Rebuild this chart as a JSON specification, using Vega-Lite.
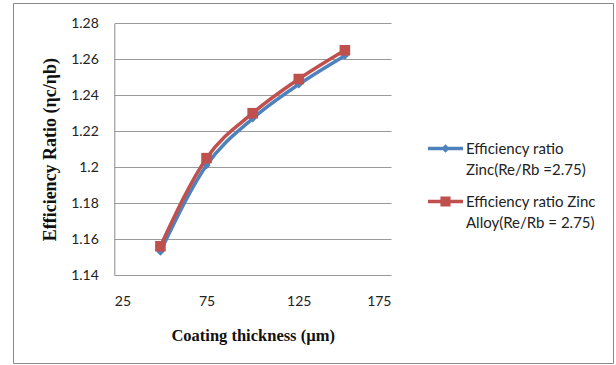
{
  "$schema": "https://vega.github.io/schema/vega-lite/v6.json",
  "autosize": {"type": "none"},
  "padding": {"left": 13, "top": 3, "right": 3, "bottom": 2},
  "width": 600,
  "height": 360,
  "background": "white",
  "view": {"stroke": "#8a8a8a", "strokeWidth": 1},
  "config": {
    "font": "Lato",
    "axis": {
      "labelFont": "Lato",
      "labelFontSize": 14,
      "labelColor": "#222222",
      "titleFont": "Liberation Serif",
      "titleFontWeight": "bold",
      "titleColor": "#111111",
      "ticks": false
    }
  },
  "data": {
    "values": [
      {"thickness": 50, "ratio": 1.153, "series": "Zinc"},
      {"thickness": 75, "ratio": 1.201, "series": "Zinc"},
      {"thickness": 100, "ratio": 1.227, "series": "Zinc"},
      {"thickness": 125, "ratio": 1.246, "series": "Zinc"},
      {"thickness": 150, "ratio": 1.262, "series": "Zinc"},
      {"thickness": 50, "ratio": 1.156, "series": "Zinc Alloy"},
      {"thickness": 75, "ratio": 1.205, "series": "Zinc Alloy"},
      {"thickness": 100, "ratio": 1.230, "series": "Zinc Alloy"},
      {"thickness": 125, "ratio": 1.249, "series": "Zinc Alloy"},
      {"thickness": 150, "ratio": 1.265, "series": "Zinc Alloy"}
    ]
  },
  "encoding": {
    "x": {
      "field": "thickness",
      "type": "quantitative",
      "scale": {"domain": [25, 175], "range": [101.3, 378], "nice": false, "zero": false},
      "axis": {
        "title": "Coating thickness (µm)",
        "titleFontSize": 16.5,
        "titlePadding": 19,
        "values": [25, 75, 125, 175],
        "grid": false,
        "domain": false,
        "offset": -88,
        "labelPadding": 19
      }
    },
    "y": {
      "field": "ratio",
      "type": "quantitative",
      "scale": {"domain": [1.14, 1.28], "range": [272, 20.3], "nice": false, "zero": false},
      "axis": {
        "title": "Efficiency Ratio (ηc/ηb)",
        "titleFontSize": 18,
        "titlePadding": 11,
        "values": [1.14, 1.16, 1.18, 1.2, 1.22, 1.24, 1.26, 1.28],
        "format": ".2~f",
        "offset": -101.3,
        "labelPadding": 16,
        "domain": true,
        "domainColor": "#8a8a8a",
        "grid": true,
        "gridColor": "#9a9a9a",
        "gridOpacity": 1
      }
    }
  },
  "layer": [
    {
      "transform": [{"filter": "datum.series === 'Zinc'"}],
      "mark": {"type": "line", "interpolate": "monotone", "strokeWidth": 3.5},
      "encoding": {
        "color": {
          "field": "series",
          "type": "nominal",
          "scale": {"domain": ["Zinc", "Zinc Alloy"], "range": ["#4F81BD", "#C0504D"]},
          "legend": {
            "orient": "none",
            "legendX": 415,
            "legendY": 128,
            "title": null,
            "padding": 0,
            "symbolSize": 1225,
            "symbolStrokeWidth": 0,
            "labelOffset": 3,
            "labelFont": "Lato",
            "labelFontSize": 15,
            "labelColor": "#222222",
            "labelLimit": 220,
            "labelBaseline": "alphabetic",
            "rowPadding": 6,
            "labelExpr": "datum.value === 'Zinc' ? ['Efficiency ratio', 'Zinc(Re/Rb =2.75)'] : ['Efficiency ratio Zinc', 'Alloy(Re/Rb = 2.75)']",
            "encode": {
              "symbols": {
                "update": {
                  "shape": {"signal": "datum.value === 'Zinc' ? 'M-1,-0.1H1V0.1H-1Z M0,-0.24L0.24,0L0,0.24L-0.24,0Z' : 'M-1,-0.1H1V0.1H-1Z M-0.29,-0.29H0.29V0.29H-0.29Z'"},
                  "fill": {"signal": "datum.value === 'Zinc' ? '#4F81BD' : '#C0504D'"},
                  "fillOpacity": {"value": 1},
                  "strokeWidth": {"value": 0}
                }
              },
              "labels": {
                "update": {
                  "lineHeight": {"value": 21},
                  "dy": {"value": 5}
                }
              }
            }
          }
        }
      }
    },
    {
      "transform": [{"filter": "datum.series === 'Zinc'"}],
      "mark": {"type": "point", "shape": "diamond", "filled": true, "size": 64, "color": "#4F81BD", "opacity": 1},
      "encoding": {}
    },
    {
      "transform": [{"filter": "datum.series === 'Zinc Alloy'"}],
      "mark": {"type": "line", "interpolate": "monotone", "strokeWidth": 3.5},
      "encoding": {
        "color": {"field": "series", "type": "nominal"}
      }
    },
    {
      "transform": [{"filter": "datum.series === 'Zinc Alloy'"}],
      "mark": {"type": "point", "shape": "square", "filled": true, "size": 112, "color": "#C0504D", "opacity": 1},
      "encoding": {}
    }
  ]
}
